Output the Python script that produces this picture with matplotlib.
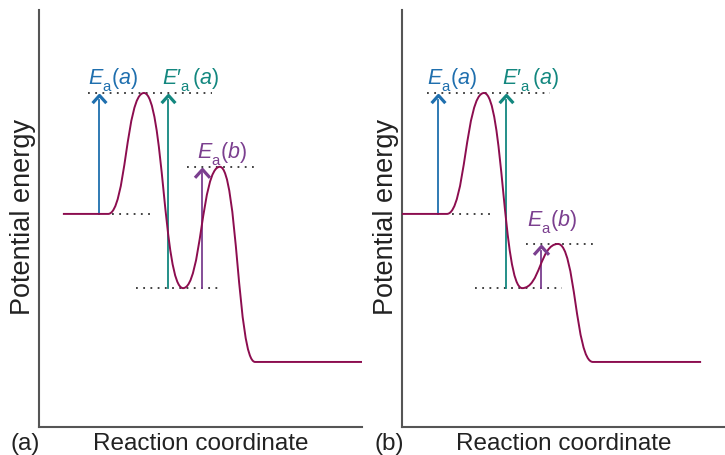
import matplotlib
matplotlib.use("Agg")
import matplotlib.pyplot as plt
import matplotlib._mathtext as mathtext_internals
from matplotlib.path import Path
from matplotlib.patches import PathPatch

plt.rcParams["font.family"] = ["Liberation Sans", "DejaVu Sans"]
plt.rcParams["mathtext.fontset"] = "custom"
plt.rcParams["mathtext.rm"] = "Liberation Sans"
plt.rcParams["mathtext.it"] = "Liberation Sans:italic"
# drop the subscripts a bit lower, like the textbook figure
mathtext_internals.FontConstantsBase.sub1 = 0.6
mathtext_internals.FontConstantsBase.sub2 = 0.75

# energy levels (arbitrary units, 0-100 scale)
E_react = 51.1
E_ts1 = 80.1
E_inter = 33.3
E_prod = 15.6
E_ts2_a = 62.4
E_ts2_b = 43.9

# key points of the profile: flat start, flat end, TS1, intermediate, TS2, product start, end
kx_a = [7.4, 21.4, 32.5, 44.6, 56.0, 66.9, 100.0]
ky_a = [E_react, E_react, E_ts1, E_inter, E_ts2_a, E_prod, E_prod]
kx_b = [0.0, 13.9, 25.4, 37.2, 48.3, 59.1, 92.6]
ky_b = [E_react, E_react, E_ts1, E_inter, E_ts2_b, E_prod, E_prod]

# arrows: x, from, to
arrows_x_a = [18.6, 39.9, 50.5]
arrows_x_b = [11.1, 32.2, 43.0]
arrows_lo = [E_react, E_inter, E_inter]
arrows_hi_a = [E_ts1, E_ts1, E_ts2_a]
arrows_hi_b = [E_ts1, E_ts1, E_ts2_b]

# dotted guides: y, x start, x end
guides_y_a = [E_ts1, E_react, E_inter, E_ts2_a]
guides_x0_a = [15.2, 22.6, 30.0, 45.8]
guides_x1_a = [53.6, 35.0, 56.7, 67.5]
guides_y_b = [E_ts1, E_react, E_inter, E_ts2_b]
guides_x0_b = [7.7, 15.5, 22.6, 38.4]
guides_x1_b = [45.8, 27.2, 49.5, 60.4]

# labels: text, x, baseline y
label_txt = ["$E_\\mathrm{a}(a)$", "$E\u2032_\\mathrm{a}\\,(a)$", "$E_\\mathrm{a}(b)$"]
label_x_a = [15.2, 38.1, 48.9]
label_y_a = [82.0, 82.0, 64.2]
label_x_b = [7.7, 31.0, 38.7]
label_y_b = [82.0, 82.0, 47.9]

CURVE = "#8c0d4f"
COLORS = ["#1f6fae", "#13877f", "#7b3f8f"]
SPINE = "#555555"
DOT = "#333333"
TXT = "#222222"

CHEVRON = Path([(-0.9, -1.0), (0.0, 0.0), (0.9, -1.0)],
               [Path.MOVETO, Path.LINETO, Path.LINETO])


def profile_path(kx, ky):
    verts = [(kx[0], ky[0]), (kx[1], ky[1])]
    codes = [Path.MOVETO, Path.LINETO]
    for i in range(1, len(kx) - 2):
        x0, y0, x1, y1 = kx[i], ky[i], kx[i + 1], ky[i + 1]
        h = 0.5 * (x1 - x0)
        verts += [(x0 + h, y0), (x1 - h, y1), (x1, y1)]
        codes += [Path.CURVE4] * 3
    verts.append((kx[-1], ky[-1]))
    codes.append(Path.LINETO)
    return Path(verts, codes)


def draw_panel(ax, kx, ky, ax_x, hi, gy, gx0, gx1, lx, ly):
    ax.set_xlim(0, 100)
    ax.set_ylim(0, 100)
    for s in ["top", "right"]:
        ax.spines[s].set_visible(False)
    for s in ["left", "bottom"]:
        ax.spines[s].set_color(SPINE)
        ax.spines[s].set_linewidth(1.5)
    ax.set_xticks([])
    ax.set_yticks([])

    ax.hlines(gy, gx0, gx1, colors=DOT, linestyles=(0, (1, 3)), lw=1.3, zorder=1)
    ax.add_patch(PathPatch(profile_path(kx, ky), fill=False, ec=CURVE, lw=1.4, zorder=3))

    for i in range(3):
        ms = 12 if i == 2 else 11
        tip = hi[i] - 0.6
        ax.plot([ax_x[i], ax_x[i]], [arrows_lo[i], tip - 1.0], color=COLORS[i], lw=1.3, zorder=2)
        ax.plot(ax_x[i], tip, marker=CHEVRON, ms=ms, mfc="none", mec=COLORS[i],
                mew=2.3, zorder=4)
        ax.text(lx[i], ly[i], label_txt[i], color=COLORS[i], fontsize=15.5,
                ha="left", va="baseline", zorder=5)

    ax.text(0.5, -0.055, "Reaction coordinate", transform=ax.transAxes, fontsize=17.5,
            ha="center", va="baseline", color=TXT)
    ax.text(-0.028, 0.503, "Potential energy", transform=ax.transAxes, fontsize=19.5,
            rotation=90, rotation_mode="anchor", ha="center", va="baseline", color=TXT)


fig = plt.figure(figsize=(7.25, 4.55), dpi=100)
W, H = 725.0, 455.0
ax_a = fig.add_axes([39 / W, (H - 427) / H, 323 / W, 417 / H])
ax_b = fig.add_axes([402 / W, (H - 427) / H, 323 / W, 417 / H])

draw_panel(ax_a, kx_a, ky_a, arrows_x_a, arrows_hi_a, guides_y_a, guides_x0_a,
           guides_x1_a, label_x_a, label_y_a)
draw_panel(ax_b, kx_b, ky_b, arrows_x_b, arrows_hi_b, guides_y_b, guides_x0_b,
           guides_x1_b, label_x_b, label_y_b)

fig.text(10 / W, (H - 450) / H, "(a)", fontsize=17.5, ha="left", va="baseline", color=TXT)
fig.text(375 / W, (H - 450) / H, "(b)", fontsize=17.5, ha="left", va="baseline", color=TXT)

fig.savefig("out.png", dpi=100)
